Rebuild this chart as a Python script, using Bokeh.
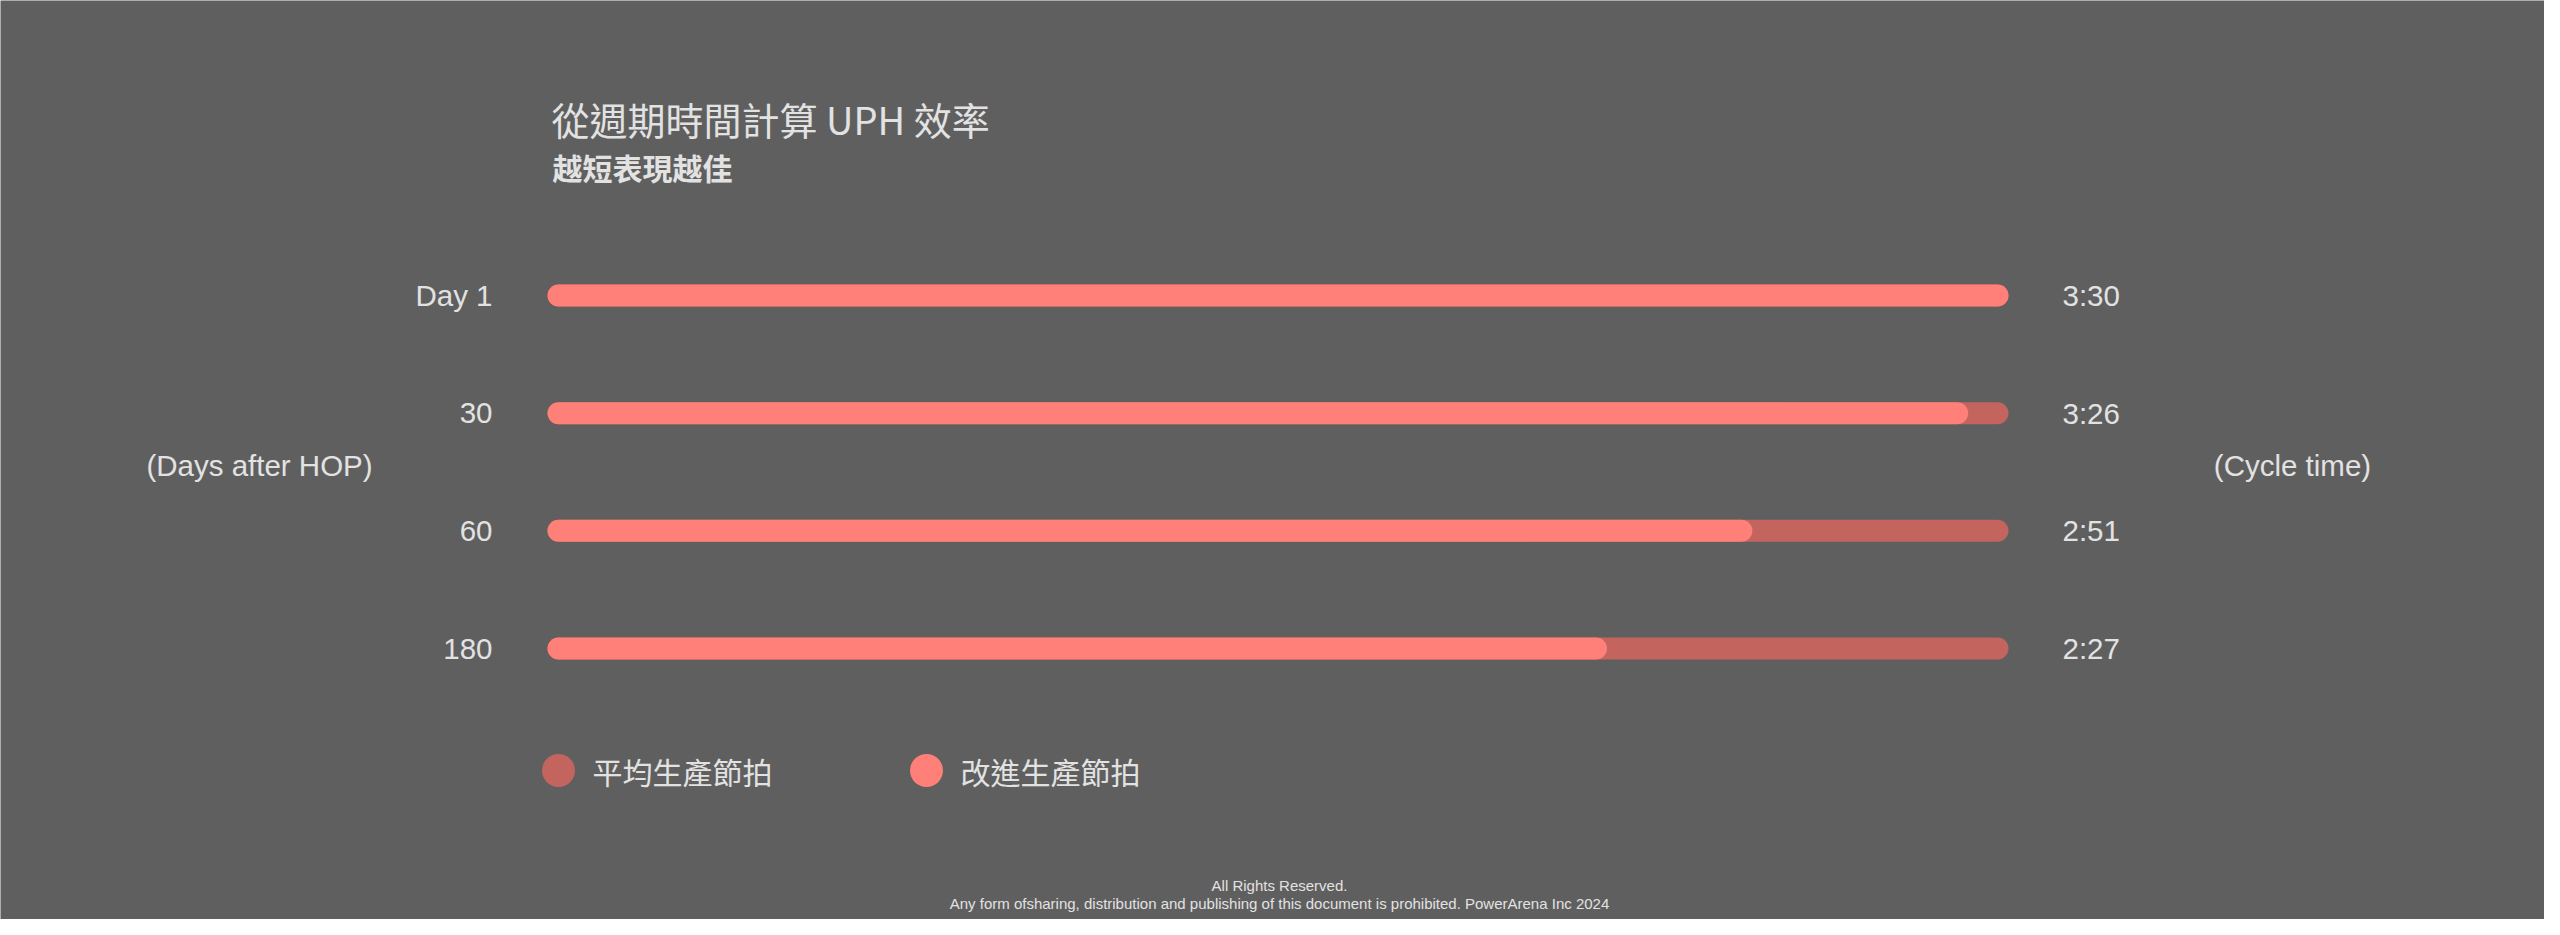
from bokeh.plotting import figure
from bokeh.models import Range1d, ColumnDataSource
from bokeh.core.properties import value
from bokeh.embed import file_html
from bokeh.resources import INLINE

# ---------------- data ----------------
days = ["Day 1", "30", "60", "180"]
cycle_labels = ["3:30", "3:26", "2:51", "2:27"]
average_pct = [100, 100, 100, 100]          # 平均生產節拍 (full bar)
improved_pct = [100, 97.2, 82.2, 72.1]      # 改進生產節拍
legend_names = ["平均生產節拍", "改進生產節拍"]
title_text = "從週期時間計算 UPH 效率"
subtitle_text = "越短表現越佳"
left_axis_title = "(Days after HOP)"
right_axis_title = "(Cycle time)"
footer_lines = ["All Rights Reserved.",
                "Any form ofsharing, distribution and publishing of this document is prohibited. PowerArena Inc 2024"]

# ---------------- layout (pixels inside the figure) ----------------
W, H = 2544, 919
BG = "#5f5f5f"
C_AVG = "#c4645e"
C_IMP = "#ff8078"
TXT = "#e2e2e2"

X0_PX, X100_PX = 558.0, 1997.0            # where 0 and 100 % land
ROW0_PX, ROW_STEP_PX = 295.0, 117.67      # first row centre and spacing
px_per_x = (X100_PX - X0_PX) / 100.0

def xd(px):
    return (px - X0_PX) / px_per_x

def yd(py):
    return 0.5 + (py - ROW0_PX) / ROW_STEP_PX

p = figure(width=W, height=H, output_backend="svg", toolbar_location=None,
           x_range=Range1d(xd(0), xd(W)), y_range=Range1d(yd(H), yd(0)),
           min_border=0, min_border_left=0, min_border_right=0,
           min_border_top=0, min_border_bottom=0)
p.axis.visible = False
p.grid.visible = False
p.outline_line_color = None
p.background_fill_color = BG
p.border_fill_color = BG

rows = [i + 0.5 for i in range(len(days))]
src = ColumnDataSource(dict(y=rows, zero=[0] * len(days), avg=average_pct,
                            imp=improved_pct, day=days, ct=cycle_labels))

p.segment(x0="zero", x1="avg", y0="y", y1="y", source=src,
          line_color=C_AVG, line_width=22, line_cap="round")
p.segment(x0="zero", x1="imp", y0="y", y1="y", source=src,
          line_color=C_IMP, line_width=22, line_cap="round")

latin = value("Liberation Sans")
cjk = value("Noto Sans CJK TC")

# row labels
p.text(x=xd(492), y="y", text="day", source=src, text_align="right",
       text_baseline="middle", text_font=latin, text_font_size="29.5px",
       text_color=TXT)
p.text(x=xd(2062), y="y", text="ct", source=src, text_align="left",
       text_baseline="middle", text_font=latin, text_font_size="29.5px",
       text_color=TXT)

# axis titles
p.text(x=[xd(259)], y=[yd(465)], text=[left_axis_title], text_align="center",
       text_baseline="middle", text_font=latin, text_font_size="29.5px",
       text_color=TXT)
p.text(x=[xd(2292)], y=[yd(465)], text=[right_axis_title], text_align="center",
       text_baseline="middle", text_font=latin, text_font_size="29.5px",
       text_color=TXT)

# title / subtitle
p.text(x=[xd(551)], y=[yd(118)], text=[title_text], text_align="left",
       text_baseline="middle", text_font=cjk, text_font_size="38px",
       text_color=TXT)
p.text(x=[xd(552)], y=[yd(166)], text=[subtitle_text], text_align="left",
       text_baseline="middle", text_font=cjk, text_font_size="30px",
       text_font_style="bold", text_color=TXT)

# legend
leg_x_px = [558, 926]
p.scatter(x=[xd(v) for v in leg_x_px], y=[yd(770)] * 2, size=33,
          marker="circle", fill_color=[C_AVG, C_IMP], line_color=None)
p.text(x=[xd(v + 34) for v in leg_x_px], y=[yd(770)] * 2, text=legend_names,
       text_align="left", text_baseline="middle", text_font=cjk,
       text_font_size="30px", text_color=TXT)

# footer
p.text(x=[xd(1279)] * 2, y=[yd(885), yd(903)], text=footer_lines,
       text_align="center", text_baseline="middle", text_font=latin,
       text_font_size="15px", text_color=TXT)

html = file_html(p, INLINE)
html = html.replace("<body>", '<body style="background:%s;">' % BG, 1)
open("out.html", "w").write(html)
